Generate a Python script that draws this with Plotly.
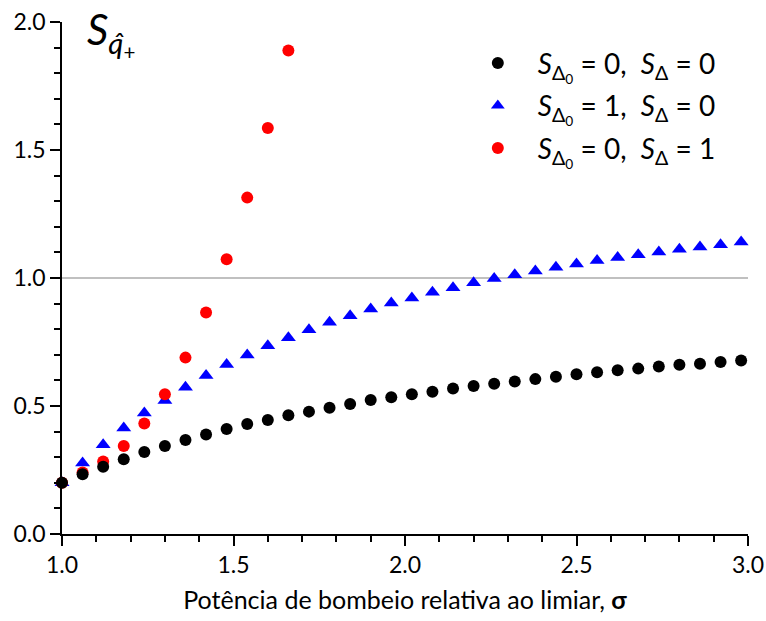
import plotly.graph_objects as go

# Pump power relative to threshold (sigma)
sigma = [1.00, 1.06, 1.12, 1.18, 1.24, 1.30, 1.36, 1.42, 1.48, 1.54, 1.60, 1.66,
         1.72, 1.78, 1.84, 1.90, 1.96, 2.02, 2.08, 2.14, 2.20, 2.26, 2.32, 2.38,
         2.44, 2.50, 2.56, 2.62, 2.68, 2.74, 2.80, 2.86, 2.92, 2.98]

# S_D0 = 0, S_D = 0
s_00 = [0.200, 0.233, 0.263, 0.292, 0.320, 0.344, 0.367, 0.389, 0.410, 0.430, 0.445, 0.464,
        0.478, 0.493, 0.508, 0.523, 0.534, 0.546, 0.556, 0.568, 0.578, 0.587, 0.596, 0.605,
        0.614, 0.624, 0.632, 0.640, 0.646, 0.654, 0.661, 0.665, 0.672, 0.678]

# S_D0 = 1, S_D = 0
s_10 = [0.200, 0.277, 0.349, 0.414, 0.473, 0.521, 0.573, 0.619, 0.662, 0.699, 0.735, 0.767,
        0.798, 0.827, 0.853, 0.879, 0.902, 0.922, 0.944, 0.962, 0.981, 0.998, 1.013, 1.027,
        1.042, 1.055, 1.068, 1.080, 1.091, 1.102, 1.112, 1.121, 1.130, 1.141]

# S_D0 = 0, S_D = 1
sigma_01 = [1.00, 1.06, 1.12, 1.18, 1.24, 1.30, 1.36, 1.42, 1.48, 1.54, 1.60, 1.66]
s_01 = [0.200, 0.240, 0.283, 0.344, 0.432, 0.546, 0.689, 0.865, 1.073, 1.314, 1.586, 1.889]

FONT = "Lato"

lbl_00 = "<i>S</i><sub>Δ<sub>0</sub></sub> = 0,  <i>S</i><sub>Δ</sub> = 0"
lbl_10 = "<i>S</i><sub>Δ<sub>0</sub></sub> = 1,  <i>S</i><sub>Δ</sub> = 0"
lbl_01 = "<i>S</i><sub>Δ<sub>0</sub></sub> = 0,  <i>S</i><sub>Δ</sub> = 1"

fig = go.Figure()

fig.add_trace(go.Scatter(
    x=sigma, y=s_10, mode="markers", name=lbl_10, legendrank=2, legendgroup="b",
    marker=dict(symbol="triangle-up", size=13, color="#0000ff"),
    cliponaxis=False))
fig.add_trace(go.Scatter(
    x=sigma_01, y=s_01, mode="markers", name=lbl_01, legendrank=3, legendgroup="c",
    marker=dict(symbol="circle", size=12, color="#ff0000"),
    cliponaxis=False))
fig.add_trace(go.Scatter(
    x=sigma, y=s_00, mode="markers", name=lbl_00, legendrank=1, legendgroup="a",
    marker=dict(symbol="circle", size=12, color="#000000"),
    cliponaxis=False))

# reference level S = 1
fig.add_shape(type="line", xref="x", yref="y", x0=1.0, x1=3.0, y0=1.0, y1=1.0,
              line=dict(color="#c0c0c0", width=2), layer="below")

fig.add_annotation(
    xref="paper", yref="paper", x=0.033, y=1.04, xanchor="left", yanchor="top",
    text="<i>S</i><sub><i>q̂</i><sub>+</sub></sub>", showarrow=False,
    font=dict(family=FONT, size=42, color="black"))

axis_common = dict(
    showline=True, linecolor="black", linewidth=1.5,
    showgrid=False, zeroline=False, automargin=False,
    ticks="outside", ticklen=10, tickwidth=1.5, tickcolor="black",
    tickformat=".1f", tickfont=dict(family=FONT, size=23, color="black"),
)

fig.update_layout(
    width=766, height=621,
    margin=dict(l=62, r=18, t=22, b=87),
    paper_bgcolor="white", plot_bgcolor="white",
    font=dict(family=FONT, color="black"),
    showlegend=True,
    legend=dict(x=0.577, y=0.968, xanchor="left", yanchor="top",
                bgcolor="rgba(0,0,0,0)", font=dict(family=FONT, size=28, color="black"),
                itemsizing="constant", itemwidth=70, tracegroupgap=3),
    xaxis=dict(range=[1.0, 3.0], dtick=0.5, tick0=1.0,
               minor=dict(dtick=0.1, ticklen=6, tickwidth=1.5, tickcolor="black", ticks="outside"),
               title=dict(text="Potência de bombeio relativa ao limiar, <b>σ</b>",
                          font=dict(family=FONT, size=25, color="black"), standoff=14),
               **axis_common),
    yaxis=dict(range=[0.0, 2.0], dtick=0.5, tick0=0.0,
               minor=dict(dtick=0.1, ticklen=6, tickwidth=1.5, tickcolor="black", ticks="outside"),
               **axis_common),
)

fig.write_html("out.html")
